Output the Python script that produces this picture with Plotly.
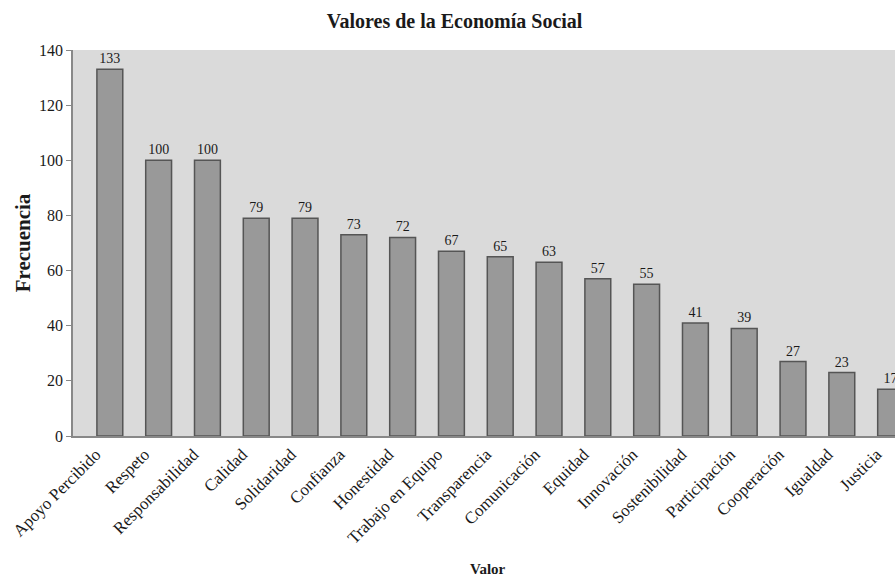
import plotly.graph_objects as go

categorias = ["Apoyo Percibido", "Respeto", "Responsabilidad", "Calidad", "Solidaridad",
              "Confianza", "Honestidad", "Trabajo en Equipo", "Transparencia", "Comunicación",
              "Equidad", "Innovación", "Sostenibilidad", "Participación", "Cooperación",
              "Igualdad", "Justicia"]
frecuencias = [133, 100, 100, 79, 79, 73, 72, 67, 65, 63, 57, 55, 41, 39, 27, 23, 17]
y_ticks = [0, 20, 40, 60, 80, 100, 120, 140]

SERIF = "Liberation Serif, Times New Roman, serif"
TXT = "#1a1a1a"

fig = go.Figure()
fig.add_trace(go.Bar(
    x=list(range(len(categorias))),
    y=frecuencias,
    width=0.53,
    marker=dict(color="#999999", line=dict(color="#555555", width=1.5)),
    text=[str(v) for v in frecuencias],
    textposition="outside",
    textfont=dict(family=SERIF, size=14, color=TXT),
    cliponaxis=False,
))

fig.update_layout(
    width=895, height=578,
    margin=dict(l=73, r=0, t=50, b=142),
    paper_bgcolor="white",
    plot_bgcolor="#dadada",
    showlegend=False,
    title=dict(text="<b>Valores de la Economía Social</b>", x=0.508, xanchor="center",
               y=0.963, yanchor="middle",
               font=dict(family=SERIF, size=20, color=TXT)),
    font=dict(family=SERIF, color=TXT),
)

fig.update_xaxes(
    range=[-0.755, 16.09],
    tickmode="array",
    tickvals=list(range(len(categorias))),
    ticktext=categorias,
    tickangle=-45,
    tickfont=dict(family=SERIF, size=17, color=TXT),
    ticklabeloverflow="allow",
    ticklabelshift=-14,
    ticklabelstandoff=0,
    showgrid=False, zeroline=False,
    showline=True, linecolor="#888888", linewidth=1.5,
    ticks="",
)
fig.update_yaxes(
    range=[0, 140],
    tickmode="array",
    tickvals=y_ticks,
    tickfont=dict(family=SERIF, size=16, color=TXT),
    showgrid=False, zeroline=False,
    showline=True, linecolor="#888888", linewidth=1.5,
    ticks="outside", ticklen=5, tickcolor="#888888",
    title=dict(text="<b>Frecuencia</b>", font=dict(family=SERIF, size=21, color=TXT),
               standoff=3),
)

fig.add_annotation(
    text="<b>Valor</b>", xref="paper", yref="paper",
    x=0.505, y=-0.345, xanchor="center", yanchor="middle",
    showarrow=False, font=dict(family=SERIF, size=15, color=TXT),
)

fig.write_html("out.html")
